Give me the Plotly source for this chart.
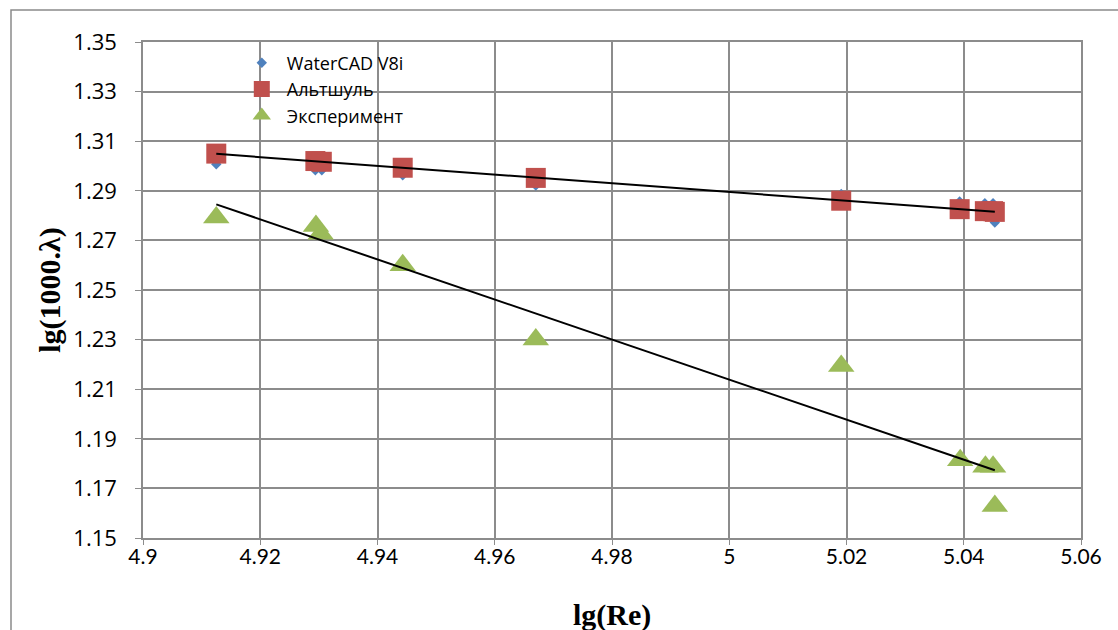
import numpy as np
import plotly.graph_objects as go

# ---- data ----
lg_re = [4.9125, 4.9294, 4.9305, 4.9443, 4.9670, 5.0191, 5.0393, 5.0436, 5.0450, 5.0453]
watercad = [1.3007, 1.2983, 1.2983, 1.2963, 1.2921, 1.2887, 1.2857, 1.2850, 1.2850, 1.2772]
altshul = [1.3050, 1.3020, 1.3017, 1.2993, 1.2952, 1.2860, 1.2826, 1.2818, 1.2818, 1.2815]
lg_re_exp = [4.9125, 4.9295, 4.9303, 4.9443, 4.9670, 5.0191, 5.0394, 5.0437, 5.0450, 5.0453]
experiment = [1.2792, 1.2758, 1.2727, 1.2600, 1.2300, 1.2194, 1.1814, 1.1787, 1.1787, 1.1629]

x_ticks = [4.9, 4.92, 4.94, 4.96, 4.98, 5.0, 5.02, 5.04, 5.06]
x_tick_text = ["4.9", "4.92", "4.94", "4.96", "4.98", "5", "5.02", "5.04", "5.06"]
y_ticks = [1.15, 1.17, 1.19, 1.21, 1.23, 1.25, 1.27, 1.29, 1.31, 1.33, 1.35]
y_tick_text = ["1.15", "1.17", "1.19", "1.21", "1.23", "1.25", "1.27", "1.29", "1.31", "1.33", "1.35"]

names = ["WaterCAD V8i", "Альтшуль", "Эксперимент"]
colors = ["#4F81BD", "#C0504D", "#9BBB59"]

fig = go.Figure()
fig.add_trace(go.Scatter(x=lg_re, y=watercad, mode="markers", name=names[0],
                         marker=dict(symbol="diamond", size=8, color=colors[0])))
fig.add_trace(go.Scatter(x=lg_re, y=altshul, mode="markers", name=names[1],
                         marker=dict(symbol="square", size=20, color=colors[1])))
fig.add_trace(go.Scatter(x=lg_re_exp, y=experiment, mode="markers", name=names[2],
                         marker=dict(symbol="triangle-up", size=23, color=colors[2])))

# linear trendlines (least squares)
for xs, ys in [(lg_re, altshul), (lg_re_exp, experiment)]:
    k, b = np.polyfit(xs, ys, 1)
    xt = np.array([min(xs), max(xs)])
    fig.add_trace(go.Scatter(x=xt, y=k * xt + b, mode="lines", showlegend=False,
                             line=dict(color="black", width=2), hoverinfo="skip"))

grid = "#8C8C8C"
L, R, T, B = 143, 37, 42, 92
W, H = 1118, 630
pw, ph = W - L - R, H - T - B

fig.update_layout(
    width=W, height=H,
    margin=dict(l=L, r=R, t=T, b=B, autoexpand=False),
    paper_bgcolor="white", plot_bgcolor="white",
    font=dict(family="Lato, Open Sans, sans-serif", color="black"),
    legend=dict(x=0.1, y=0.995, xanchor="left", yanchor="top",
                bgcolor="rgba(0,0,0,0)", font=dict(size=18, family="Open Sans"),
                tracegroupgap=0, itemwidth=40),
    xaxis=dict(range=[4.9, 5.06], tickvals=x_ticks, ticktext=x_tick_text,
               showgrid=True, gridcolor=grid, gridwidth=1.5, automargin=False,
               showline=True, linecolor=grid, linewidth=1.5, mirror=True,
               ticks="outside", ticklen=5, tickcolor=grid, ticklabelstandoff=-6,
               tickfont=dict(size=21, family="Lato"), zeroline=False),
    yaxis=dict(range=[1.15, 1.35], tickvals=y_ticks, ticktext=y_tick_text,
               showgrid=True, gridcolor=grid, gridwidth=1.5, automargin=False,
               showline=True, linecolor=grid, linewidth=1.5, mirror=True,
               ticks="outside", ticklen=6, tickcolor=grid, ticklabelstandoff=14,
               tickfont=dict(size=22, family="Open Sans"), zeroline=False,
               title=dict(text="<b>lg(1000.λ)</b>", font=dict(family="Liberation Serif", size=30),
                          standoff=4)),
)

# x-axis title
fig.add_annotation(text="<b>lg(Re)</b>", xref="paper", yref="paper",
                   x=0.5, y=-(615 - (H - B)) / ph, xanchor="center", yanchor="middle",
                   showarrow=False, font=dict(family="Liberation Serif", size=30, color="black"))

# outer chart border (left and top visible)
fig.add_shape(type="rect", xref="paper", yref="paper",
              x0=(11 - L) / pw, x1=(W + 20 - L) / pw,
              y0=-(H + 20 - (H - B)) / ph, y1=(H - B - 10) / ph,
              line=dict(color="#8A8A8A", width=1.5), fillcolor="rgba(0,0,0,0)", layer="below")

fig.write_html("out.html")
